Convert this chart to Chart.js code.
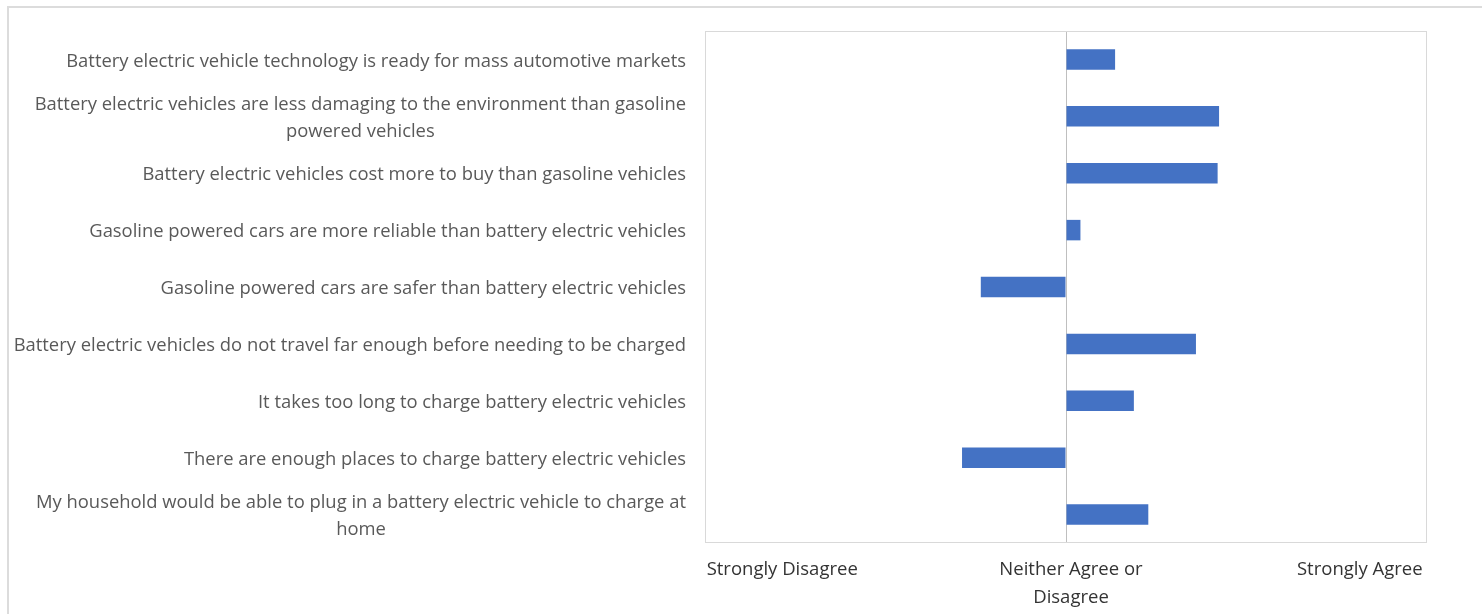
<!DOCTYPE html>
<html>
<head>
<meta charset="utf-8">
<script src="https://cdn.jsdelivr.net/npm/chart.js@4/dist/chart.umd.min.js"></script>
<style>
  html, body { margin: 0; padding: 0; background: #fff; overflow: hidden; }
  #wrap { position: relative; width: 1482px; height: 614px; }
  #frame { position: absolute; left: 7px; top: 6px; width: 1500px; height: 700px;
           border-top: 2px solid #dcdcdc; border-left: 2px solid #dcdcdc; box-sizing: border-box; }
  canvas { position: absolute; left: 0; top: 0; }
</style>
</head>
<body>
<div id="wrap">
  <div id="frame"></div>
  <canvas id="c" width="1482" height="614"></canvas>
</div>
<script>
const categories = [
  ["Battery electric vehicle technology is ready for mass automotive markets"],
  ["Battery electric vehicles are less damaging to the environment than gasoline", "powered vehicles"],
  ["Battery electric vehicles cost more to buy than gasoline vehicles"],
  ["Gasoline powered cars are more reliable than battery electric vehicles"],
  ["Gasoline powered cars are safer than battery electric vehicles"],
  ["Battery electric vehicles do not travel far enough before needing to be charged"],
  ["It takes too long to charge battery electric vehicles"],
  ["There are enough places to charge battery electric vehicles"],
  ["My household would be able to plug in a battery electric vehicle to charge at", "home"]
];
const agreement = [0.34, 1.06, 1.05, 0.10, -0.59, 0.90, 0.47, -0.72, 0.57];
const tickValues = [-2, 0, 2];
const tickLabels = ["Strongly Disagree", ["Neither Agree or", "Disagree"], "Strongly Agree"];
const axisMin = -2.5, axisMax = 2.5;

const FONT = "'Open Sans', Lato, sans-serif";

// fit font size so the widest text matches the reference width
function fitSize(text, target) {
  const c = document.createElement('canvas').getContext('2d');
  c.font = "100px " + FONT;
  return Math.round(100 * target / c.measureText(text).width * 10) / 10;
}
const ySize = fitSize(categories[5][0], 674);
const xSize = fitSize(tickLabels[0], 151);

const framePlugin = {
  id: 'framePlugin',
  beforeDatasetsDraw(chart) {
    const a = chart.chartArea, ctx = chart.ctx;
    ctx.save();
    ctx.strokeStyle = '#d9d9d9';
    ctx.lineWidth = 1;
    ctx.strokeRect(a.left + 0.5, a.top + 0.5, a.right - a.left - 1, a.bottom - a.top - 1);
    ctx.restore();
  },
  afterDraw(chart) {
    const ctx = chart.ctx, y = chart.scales.y, a = chart.chartArea;
    ctx.save();
    ctx.font = ySize + "px " + FONT;
    ctx.fillStyle = '#595959';
    ctx.textAlign = 'center';
    ctx.textBaseline = 'middle';
    const right = a.left - 19;
    const lh = 27;
    categories.forEach((lines, i) => {
      const cy = y.getPixelForTick(i);
      const w = Math.max(...lines.map(l => ctx.measureText(l).width));
      const cx = right - w / 2;
      const y0 = cy - (lines.length - 1) * lh / 2 + 2;
      lines.forEach((l, k) => ctx.fillText(l, cx, y0 + k * lh));
    });
    ctx.restore();
  }
};

new Chart(document.getElementById('c'), {
  type: 'bar',
  data: {
    labels: categories.map(c => c.join(' ')),
    datasets: [{
      data: agreement,
      backgroundColor: '#4472C4',
      borderWidth: 0,
      barPercentage: 0.36,
      categoryPercentage: 1
    }]
  },
  options: {
    indexAxis: 'y',
    responsive: false,
    animation: false,
    devicePixelRatio: 1,
    layout: { padding: { left: 0, right: 55, top: 31, bottom: 0 } },
    plugins: { legend: { display: false }, tooltip: { enabled: false } },
    scales: {
      x: {
        min: axisMin, max: axisMax,
        afterBuildTicks(scale) { scale.ticks = tickValues.map(v => ({ value: v })); },
        afterFit(scale) { scale.height = 71; },
        border: { display: false },
        grid: {
          drawTicks: false,
          color: ctx => (ctx.tick && ctx.tick.value === 0) ? '#bfbfbf' : 'rgba(0,0,0,0)',
          lineWidth: 1
        },
        ticks: {
          padding: 13,
          labelOffset: 5,
          maxRotation: 0,
          autoSkip: false,
          color: '#333333',
          font: { family: FONT, size: xSize, lineHeight: 1.5 },
          callback: (v) => { const i = tickValues.indexOf(v); return i >= 0 ? tickLabels[i] : ''; }
        }
      },
      y: {
        afterFit(scale) { scale.width = 705; },
        border: { display: false },
        grid: { display: false },
        ticks: { display: false }
      }
    }
  },
  plugins: [framePlugin]
});
</script>
</body>
</html>
